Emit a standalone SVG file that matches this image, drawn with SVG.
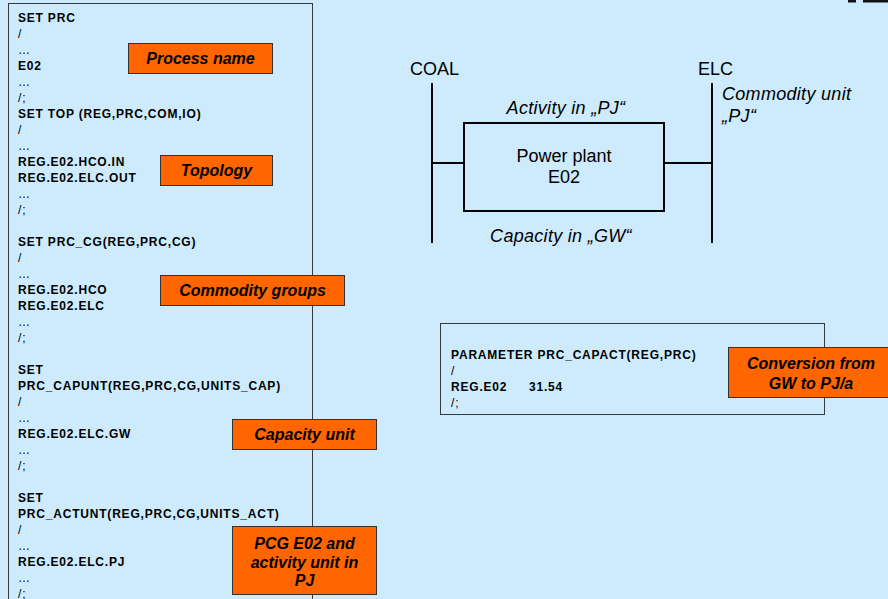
<svg xmlns="http://www.w3.org/2000/svg" width="888" height="599" viewBox="0 0 888 599">
<style>
.code{font-family:"Liberation Sans",Arial,sans-serif;font-size:12px;font-weight:bold;letter-spacing:0.8px;fill:#000}
.thin{font-weight:normal}
.tag{fill:#FF6600;stroke:#333;stroke-width:1}
.tagt{font-family:"Liberation Sans",Arial,sans-serif;font-size:16px;font-weight:bold;font-style:italic;fill:#000;text-anchor:middle}
.lbl{font-family:"Liberation Sans",Arial,sans-serif;font-size:18px;fill:#000}
.it{font-style:italic;letter-spacing:0.3px}
.ln{stroke:#000;stroke-width:2;fill:none}
</style>
<rect x="0" y="0" width="888" height="599" fill="#CDEBFD"/>
<rect x="848" y="0" width="8" height="2.5" fill="#111"/>
<rect x="863" y="0" width="25" height="2.5" fill="#111"/>

<g id="code-panel">
<rect x="8.5" y="3.5" width="304" height="620" fill="none" stroke="#3a3a3a" stroke-width="1"/>
<text class="code" x="18" y="21.5">SET PRC</text>
<text class="code thin" x="18" y="37.5">/</text>
<text class="code thin" x="18" y="53.5">…</text>
<text class="code" x="18" y="69.5">E02</text>
<text class="code thin" x="18" y="85.5">…</text>
<text class="code thin" x="18" y="101.5">/;</text>
<text class="code" x="18" y="117.5">SET TOP (REG,PRC,COM,IO)</text>
<text class="code thin" x="18" y="133.5">/</text>
<text class="code thin" x="18" y="149.5">…</text>
<text class="code" x="18" y="165.5">REG.E02.HCO.IN</text>
<text class="code" x="18" y="181.5">REG.E02.ELC.OUT</text>
<text class="code thin" x="18" y="197.5">…</text>
<text class="code thin" x="18" y="213.5">/;</text>
<text class="code" x="18" y="245.5">SET PRC_CG(REG,PRC,CG)</text>
<text class="code thin" x="18" y="261.5">/</text>
<text class="code thin" x="18" y="277.5">…</text>
<text class="code" x="18" y="293.5">REG.E02.HCO</text>
<text class="code" x="18" y="309.5">REG.E02.ELC</text>
<text class="code thin" x="18" y="325.5">…</text>
<text class="code thin" x="18" y="341.5">/;</text>
<text class="code" x="18" y="373.5">SET</text>
<text class="code" x="18" y="389.5">PRC_CAPUNT(REG,PRC,CG,UNITS_CAP)</text>
<text class="code thin" x="18" y="405.5">/</text>
<text class="code thin" x="18" y="421.5">…</text>
<text class="code" x="18" y="437.5">REG.E02.ELC.GW</text>
<text class="code thin" x="18" y="453.5">…</text>
<text class="code thin" x="18" y="469.5">/;</text>
<text class="code" x="18" y="501.5">SET</text>
<text class="code" x="18" y="517.5">PRC_ACTUNT(REG,PRC,CG,UNITS_ACT)</text>
<text class="code thin" x="18" y="533.5">/</text>
<text class="code thin" x="18" y="549.5">…</text>
<text class="code" x="18" y="565.5">REG.E02.ELC.PJ</text>
<text class="code thin" x="18" y="581.5">…</text>
<text class="code thin" x="18" y="597.5">/;</text>
</g>

<g id="tag-process-name">
<rect class="tag" x="128.5" y="43.5" width="144" height="30"/>
<text class="tagt" x="200.5" y="64">Process name</text>
</g>
<g id="tag-topology">
<rect class="tag" x="160.5" y="155.5" width="112" height="30"/>
<text class="tagt" x="216.5" y="176">Topology</text>
</g>
<g id="tag-commodity-groups">
<rect class="tag" x="160.5" y="275.5" width="184" height="30"/>
<text class="tagt" x="252.5" y="296">Commodity groups</text>
</g>
<g id="tag-capacity-unit">
<rect class="tag" x="232.5" y="419.5" width="144" height="30"/>
<text class="tagt" x="304.5" y="440">Capacity unit</text>
</g>
<g id="tag-pcg">
<rect class="tag" x="232.5" y="526.5" width="144" height="68"/>
<text class="tagt" x="304.5" y="549">PCG E02 and</text>
<text class="tagt" x="304.5" y="567.5">activity unit in</text>
<text class="tagt" x="304.5" y="586">PJ</text>
</g>

<g id="connectors">
<line class="ln" x1="432" y1="83" x2="432" y2="243"/>
<line class="ln" x1="712" y1="83" x2="712" y2="243"/>
<line class="ln" x1="432" y1="163" x2="464" y2="163"/>
<line class="ln" x1="664" y1="163" x2="712" y2="163"/>
</g>

<g id="coal">
<text class="lbl" x="410" y="74.5">COAL</text>
</g>
<g id="elc">
<text class="lbl" x="698" y="74.5">ELC</text>
<text class="lbl it" x="722" y="100">Commodity unit</text>
<text class="lbl it" x="722" y="121.5">„PJ“</text>
</g>
<g id="power-plant">
<rect x="464" y="123" width="200" height="88" fill="none" stroke="#000" stroke-width="2"/>
<text class="lbl" x="564" y="162" text-anchor="middle">Power plant</text>
<text class="lbl" x="564" y="183" text-anchor="middle">E02</text>
<text class="lbl it" x="566" y="113.5" text-anchor="middle">Activity in „PJ“</text>
<text class="lbl it" x="561" y="241.5" text-anchor="middle">Capacity in „GW“</text>
</g>

<g id="parameter-panel">
<rect x="440.5" y="323.5" width="384" height="91" fill="none" stroke="#3a3a3a" stroke-width="1"/>
<text class="code" x="451" y="358.5">PARAMETER PRC_CAPACT(REG,PRC)</text>
<text class="code thin" x="451" y="374.5">/</text>
<text class="code" x="451" y="390.5">REG.E02</text>
<text class="code" x="529" y="390.5">31.54</text>
<text class="code thin" x="451" y="406.5">/;</text>
</g>
<g id="tag-conversion">
<rect class="tag" x="728.5" y="347.5" width="160" height="50"/>
<text class="tagt" x="811" y="368.5">Conversion from</text>
<text class="tagt" x="811" y="388.5">GW to PJ/a</text>
</g>
</svg>
